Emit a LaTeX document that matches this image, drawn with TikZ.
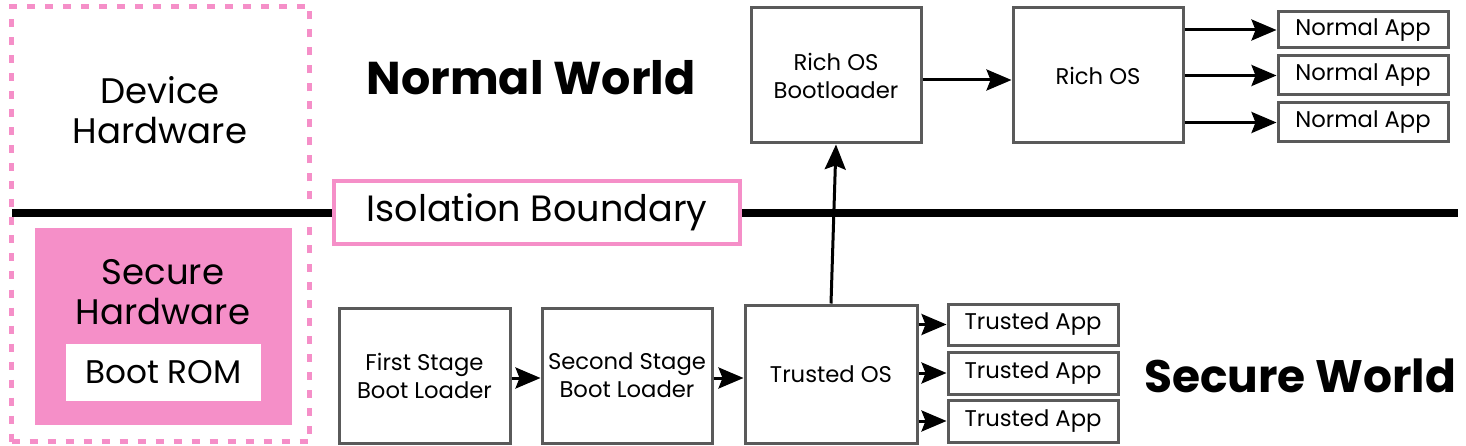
\documentclass[tikz,border=0pt]{standalone}
\usepackage{fontspec}
\setmainfont{Poppins}
\usetikzlibrary{arrows.meta}
\definecolor{pinkc}{RGB}{245,143,200}
\definecolor{boxgray}{RGB}{90,90,90}
\tikzset{
  box/.style={draw=boxgray, line width=3pt, fill=white, inner sep=0pt, align=center, font=\fontsize{22.7}{28}\selectfont},
  app/.style={box, minimum width=170pt},
  arr/.style={line width=3pt, -{Stealth[length=25pt,width=21pt,inset=4pt]}},
}
\begin{document}
\begin{tikzpicture}[x=1pt,y=-1pt]
\useasboundingbox (0,0) rectangle (1466,446);
% device hardware dashed frame
\node[draw=pinkc, line width=5pt, dash pattern=on 8pt off 10pt, minimum width=298pt, minimum height=435pt, inner sep=0pt] (dev) at (160.5,224) {};
\node[align=center, font=\fontsize{35.5}{40}\selectfont] (devt) at (160,110) {Device\\Hardware};
% boundary line
\coordinate (bl) at (12,213);
\coordinate (br) at (1458,213);
\draw[line width=8pt] (bl) -- (br);
% secure hardware
\node[fill=pinkc, minimum width=257pt, minimum height=197pt, inner sep=0pt] (sh) at (163.5,326.5) {};
\node[align=center, font=\fontsize{35.5}{40}\selectfont] (sht) at (163,292) {Secure\\Hardware};
\node[fill=white, minimum width=195pt, minimum height=57pt, inner sep=0pt, font=\fontsize{32.7}{36}\selectfont] (rom) at (163.5,372.5) {Boot ROM};
% isolation boundary
\node[draw=pinkc, line width=4.5pt, fill=white, minimum width=406pt, minimum height=63pt, inner sep=0pt, font=\fontsize{36.6}{40}\selectfont] (iso) at (537,212.5) {Isolation Boundary};
% titles
\node[font=\fontsize{46}{52}\selectfont\bfseries] (nw) at (531,78) {Normal World};
\node[font=\fontsize{45.5}{52}\selectfont\bfseries] (sw) at (1300,376) {Secure World};
% normal world boxes
\node[box, minimum width=170pt, minimum height=135pt] (rbl) at (836,75.5) {Rich OS\\Bootloader};
\node[box, minimum width=170pt, minimum height=135pt] (ros) at (1098,75.5) {Rich OS};
\node[app, minimum height=36pt] (na1) at (1363,30) {Normal App};
\node[app, minimum height=39pt] (na2) at (1363,75.5) {Normal App};
\node[app, minimum height=39pt] (na3) at (1363,122.5) {Normal App};
% secure world boxes
\node[box, minimum width=171pt, minimum height=135pt] (fsb) at (424.5,375.5) {First Stage\\Boot Loader};
\node[box, minimum width=170pt, minimum height=135pt] (ssb) at (627,375.5) {Second Stage\\Boot Loader};
\node[box, minimum width=172pt, minimum height=138pt] (tos) at (831,374) {Trusted OS};
\node[app, minimum height=41pt] (ta1) at (1033,324.5) {Trusted App};
\node[app, minimum height=42pt] (ta2) at (1033,373) {Trusted App};
\node[app, minimum height=42pt] (ta3) at (1033,421) {Trusted App};
% arrows
\draw[arr] (rbl.east |- 0,80) -- (ros.west |- 0,80);
\draw[arr] (ros.east |- na1) -- (na1.west);
\draw[arr] (ros.east |- na2) -- (na2.west);
\draw[arr] (ros.east |- na3) -- (na3.west);
\draw[arr] (fsb.east |- 0,378) -- (ssb.west |- 0,378);
\draw[arr] (ssb.east |- 0,378) -- (tos.west |- 0,378);
\draw[arr] (tos.east |- ta1) -- (ta1.west);
\draw[arr] (tos.east |- ta2) -- (ta2.west);
\draw[arr] (tos.east |- ta3) -- (ta3.west);
\draw[arr] (tos.north) -- (rbl.south);
\end{tikzpicture}
\end{document}
